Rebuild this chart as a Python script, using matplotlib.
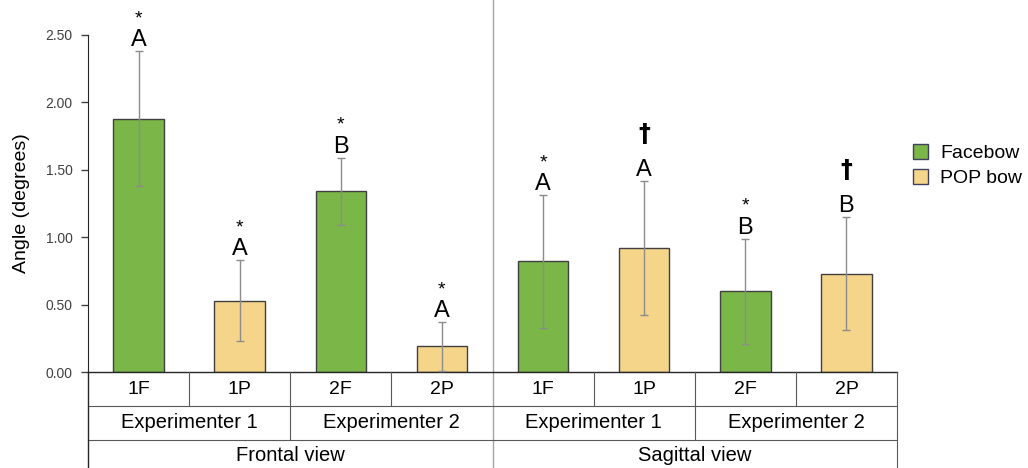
import matplotlib
matplotlib.use('Agg')
import matplotlib.pyplot as plt
from matplotlib.patches import Patch

plt.rcParams['font.family'] = ['Liberation Sans', 'DejaVu Sans']

# data
labels = ['1F', '1P', '2F', '2P', '1F', '1P', '2F', '2P']
means = [1.88, 0.53, 1.34, 0.19, 0.82, 0.92, 0.60, 0.73]
sds = [0.50, 0.30, 0.25, 0.18, 0.49, 0.50, 0.39, 0.42]
letters = ['A', 'A', 'B', 'A', 'A', 'A', 'B', 'B']
marks = ['*', '*', '*', '*', '*', '\u2020', '*', '\u2020']
experimenters = ['Experimenter 1', 'Experimenter 2', 'Experimenter 1', 'Experimenter 2']
views = ['Frontal view', 'Sagittal view']
yticks = [0.0, 0.5, 1.0, 1.5, 2.0, 2.5]

green = '#7ab648'
yellow = '#f5d58a'
colors = [green if l.endswith('F') else yellow for l in labels]

fig = plt.figure(figsize=(10.28, 4.68), dpi=100)
ax = fig.add_axes([88/1028, 96/468, 809/1028, 337/468])

x = list(range(len(labels)))
ax.bar(x, means, width=0.5, color=colors, edgecolor='#404040', linewidth=1, zorder=2)
ax.errorbar(x, means, yerr=sds, fmt='none', ecolor='#8c8c8c', elinewidth=1,
            capsize=3, capthick=1, zorder=3)

# letters and significance marks above the error bars
for i in x:
    top = means[i] + sds[i]
    ax.annotate(letters[i], (i, top), xytext=(0, 3.6), textcoords='offset points',
                ha='center', va='baseline', fontsize=17, color='black')
    if marks[i] == '*':
        ax.annotate('*', (i, top), xytext=(0, 20), textcoords='offset points',
                    ha='center', va='baseline', fontsize=14, color='black')
    else:
        ax.annotate(marks[i], (i, top), xytext=(0, 28.5), textcoords='offset points',
                    ha='center', va='baseline', fontsize=17, fontweight='bold',
                    family='DejaVu Sans', color='black')

ax.set_xlim(-0.5, 7.5)
ax.set_ylim(0, 2.5)
ax.set_yticks(yticks)
ax.set_yticklabels(['%.2f' % v for v in yticks], fontsize=10, color='#404040')
ax.tick_params(axis='y', direction='out', length=5, width=1, pad=6, color='#404040')
ax.set_xticks([])
ax.set_ylabel('Angle (degrees)', fontsize=14, labelpad=11)
for s in ['top', 'right', 'bottom']:
    ax.spines[s].set_visible(False)
ax.spines['left'].set_color('#262626')
ax.spines['left'].set_bounds(0, 2.5)

# category table under the axis
trans = ax.get_xaxis_transform()
r1 = -34/337
r2 = -68/337
r3 = -96/337
lc = '#595959'
ax.plot([-0.5, 7.5], [0, 0], color='#262626', lw=1, transform=trans, clip_on=False)
ax.plot([-0.5, 7.5], [r1, r1], color=lc, lw=0.8, transform=trans, clip_on=False)
ax.plot([-0.5, 7.5], [r2, r2], color=lc, lw=0.8, transform=trans, clip_on=False)
ax.plot([-0.5, -0.5], [0, r3], color='#262626', lw=1, transform=trans, clip_on=False)
ax.plot([7.5, 7.5], [0, r3], color=lc, lw=0.8, transform=trans, clip_on=False)
for b in [0.5, 1.5, 2.5, 4.5, 5.5, 6.5]:
    ax.plot([b, b], [0, r1], color=lc, lw=0.8, transform=trans, clip_on=False)
for b in [1.5, 5.5]:
    ax.plot([b, b], [r1, r2], color=lc, lw=0.8, transform=trans, clip_on=False)
ax.plot([3.5, 3.5], [r3, 1 + 35/337], color='#a6a6a6', lw=1, transform=trans,
        clip_on=False, zorder=1)

for i in x:
    ax.text(i, r1/2, labels[i], transform=trans, ha='center', va='center', fontsize=14)
for j, name in enumerate(experimenters):
    ax.text(2*j + 0.5, (r1 + r2)/2, name, transform=trans, ha='center', va='center', fontsize=14.5)
for j, name in enumerate(views):
    ax.text(4*j + 1.5, (r2 + r3)/2 - 0.005, name, transform=trans, ha='center', va='center', fontsize=14.5)

handles = [Patch(facecolor=green, edgecolor='#404060', label='Facebow'),
           Patch(facecolor=yellow, edgecolor='#404060', label='POP bow')]
fig.legend(handles=handles, loc='upper left', bbox_to_anchor=(905/1028, 1 - 136/468),
           frameon=False, fontsize=14, handlelength=0.8, handleheight=0.8,
           handletextpad=0.6, labelspacing=0.35, borderaxespad=0)

fig.savefig('out.png', dpi=100)
